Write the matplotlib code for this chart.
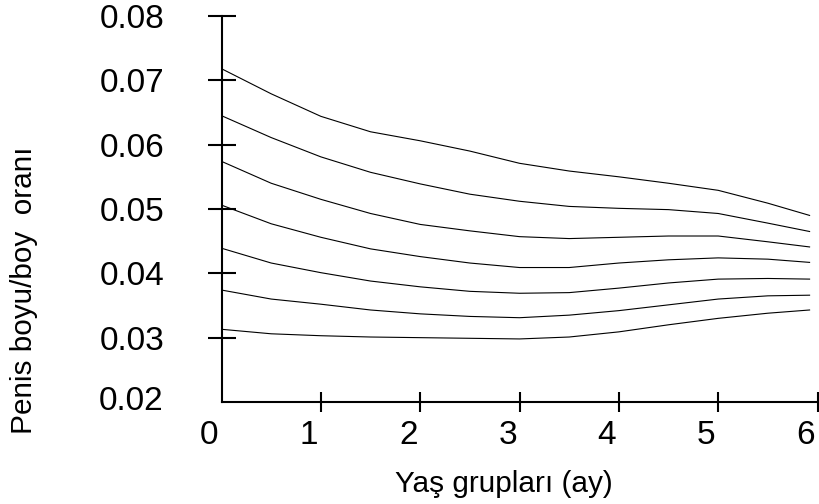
import matplotlib
matplotlib.use('Agg')
import matplotlib.pyplot as plt
from matplotlib.transforms import ScaledTranslation

plt.rcParams['font.family'] = ['Liberation Sans', 'DejaVu Sans']

# age (months) and the seven percentile curves
age = [0.0, 0.5, 1.0, 1.5, 2.0, 2.5, 3.0, 3.5, 4.0, 4.5, 5.0, 5.5, 5.92]

p1 = [0.0718, 0.0679, 0.0644, 0.0620, 0.0606, 0.0590, 0.0571, 0.0559,
      0.0550, 0.0540, 0.0529, 0.0509, 0.0490]
p2 = [0.0645, 0.0611, 0.0581, 0.0557, 0.0539, 0.0523, 0.0512, 0.0504,
      0.0501, 0.0499, 0.0493, 0.0478, 0.0465]
p3 = [0.0574, 0.0540, 0.0515, 0.0493, 0.0476, 0.0466, 0.0457, 0.0454,
      0.0456, 0.0458, 0.0458, 0.0449, 0.0441]
p4 = [0.0506, 0.0477, 0.0456, 0.0438, 0.0426, 0.0416, 0.0409, 0.0409,
      0.0416, 0.0421, 0.0424, 0.0422, 0.0417]
p5 = [0.0439, 0.0416, 0.0401, 0.0388, 0.0379, 0.0372, 0.0369, 0.0370,
      0.0377, 0.0385, 0.0391, 0.0392, 0.0391]
p6 = [0.0374, 0.0360, 0.0352, 0.0343, 0.0337, 0.0333, 0.0331, 0.0335,
      0.0342, 0.0351, 0.0360, 0.0365, 0.0366]
p7 = [0.0313, 0.0306, 0.0303, 0.0301, 0.0300, 0.0299, 0.0298, 0.0301,
      0.0309, 0.0320, 0.0330, 0.0338, 0.0343]

curves = [p1, p2, p3, p4, p5, p6, p7]

xticks = [1, 2, 3, 4, 5, 6]
xticklabels = ['1', '2', '3', '4', '5', '6']
yticks = [0.03, 0.04, 0.05, 0.06, 0.07, 0.08]
yticklabels = ['0.03', '0.04', '0.05', '0.06', '0.07', '0.08']

fig = plt.figure(figsize=(8.19, 5.04), dpi=100)
ax = fig.add_axes([0.2705, 0.2024, 0.7277, 0.7659])

for c in curves:
    ax.plot(age, c, color='black', lw=0.8)

ax.set_xlim(0, 6)
ax.set_ylim(0.02, 0.08)

for s in ['top', 'right']:
    ax.spines[s].set_visible(False)
for s in ['left', 'bottom']:
    ax.spines[s].set_linewidth(1.5)

ax.set_xticks(xticks)
ax.set_xticklabels(xticklabels)
ax.set_yticks(yticks)
ax.set_yticklabels(yticklabels)
ax.tick_params(axis='x', direction='inout', length=13.7, width=1.5,
               labelsize=24, pad=5.8)
ax.tick_params(axis='y', direction='inout', length=20, width=1.5,
               labelsize=24, pad=31)

# the "0" and "0.02" labels sit at the corner of the axes, no tick there
fig.text(0.2705 - 13 / 819, 0.2024 - 18 / 504, '0', fontsize=24,
         ha='center', va='top')
corner = ax.text(0, 0.02, '0.02', fontsize=24, ha='right', va='center',
                 clip_on=False)
corner.set_transform(ax.get_yaxis_transform()
                     + ScaledTranslation(-58 / 100, 0, fig.dpi_scale_trans))

# x tick labels sit a bit left of their ticks in the reference
for lab in ax.get_xticklabels():
    lab.set_transform(lab.get_transform()
                      + ScaledTranslation(-12 / 100, 0, fig.dpi_scale_trans))

fig.text(24 / 819, 0.425, 'Penis boyu/boy  oranı', fontsize=21.4,
         rotation=90, ha='center', va='center')
fig.text(0.615, 0.040, 'Yaş grupları (ay)', fontsize=21.4,
         ha='center', va='center')

fig.savefig('out.png', dpi=100)
